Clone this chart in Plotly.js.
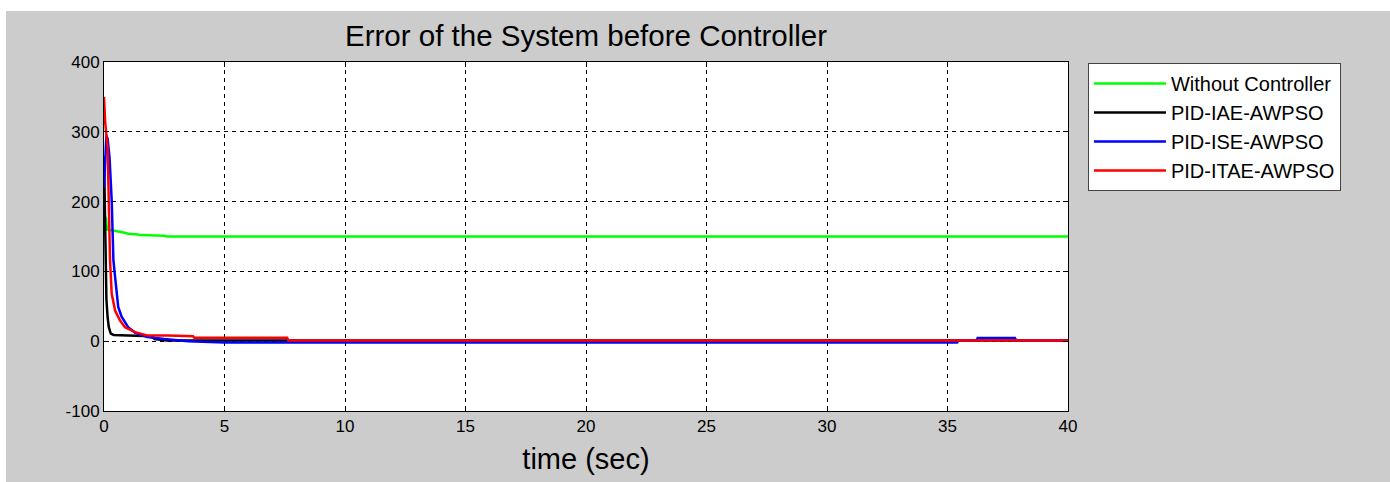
<!DOCTYPE html>
<html>
<head>
<meta charset="utf-8">
<script src="https://cdn.plot.ly/plotly-3.0.1.min.js"></script>
<style>
html,body{margin:0;padding:0;background:#ffffff;}
#chart{position:absolute;left:6px;top:11px;width:1384px;height:471px;}
</style>
</head>
<body>
<div id="chart"></div>
<script>
// Time (sec) and error values
const greenT = [0, 0.08, 0.12, 0.4, 0.5, 0.9, 1.0, 1.4, 1.5, 2.5, 2.6, 40];
const greenY = [180, 176, 160, 159, 158, 155, 154, 153, 152, 151, 150, 150];

const iaeT = [0, 0.04, 0.07, 0.1, 0.15, 0.2, 0.28, 0.4, 1.0, 2.0, 2.1, 2.6, 40];
const iaeY = [265, 200, 120, 60, 34, 20, 11, 9, 8, 7, 3, 1, 1];

const iseT = [0, 0.1, 0.15, 0.23, 0.32, 0.39, 0.46, 0.59, 0.73, 1.0, 1.3, 1.8, 2.5, 3.5, 5, 35.4, 35.45, 36.2, 36.25, 37.8, 37.85, 40];
const iseY = [220, 295, 290, 263, 201, 116, 92, 49, 35, 20, 12, 6, 3, 0, -2, -2, 0.5, 0.5, 4.5, 4.5, 0.5, 0.5];

const itaeT = [0, 0.05, 0.15, 0.18, 0.25, 0.32, 0.46, 0.66, 0.87, 1.29, 1.83, 2.65, 3.7, 3.75, 7.6, 7.65, 40];
const itaeY = [350, 313, 278, 211, 116, 68, 44, 30, 20, 13, 8, 8, 7, 5, 5, 1, 1];

const seriesNames = ["Without Controller", "PID-IAE-AWPSO", "PID-ISE-AWPSO", "PID-ITAE-AWPSO"];
const seriesColors = ["#00ff00", "#000000", "#0000ff", "#ff0000"];

const xTicks = [0, 5, 10, 15, 20, 25, 30, 35, 40];
const yTicks = [-100, 0, 100, 200, 300, 400];

const xs = [greenT, iaeT, iseT, itaeT];
const ys = [greenY, iaeY, iseY, itaeY];

const traces = xs.map((x, i) => ({
  x: x, y: ys[i], type: "scatter", mode: "lines",
  name: seriesNames[i], legendgroup: "g" + i,
  line: {color: seriesColors[i], width: 2.5}
}));

const font = "Liberation Sans, Arial, sans-serif";

const layout = {
  width: 1384, height: 471,
  paper_bgcolor: "#cccccc",
  plot_bgcolor: "#ffffff",
  margin: {l: 98, r: 322, t: 51, b: 71, pad: 0},
  title: {text: "Error of the System before Controller", font: {family: font, size: 29.5, color: "#000"},
          x: 0.5, xref: "paper", xanchor: "center", y: 0.947, yref: "container", yanchor: "middle"},
  font: {family: font, color: "#000"},
  xaxis: {
    range: [0, 40], tickvals: xTicks, ticktext: xTicks.map(String),
    showgrid: true, gridcolor: "#000", gridwidth: 1, griddash: "4px,4px",
    zeroline: false, showline: true, linecolor: "#000", linewidth: 1, mirror: "ticks",
    ticks: "inside", ticklen: 5, tickcolor: "#000",
    tickfont: {family: font, size: 17},
    title: {text: "time (sec)", font: {family: font, size: 29}, standoff: 13}
  },
  yaxis: {
    range: [-100, 400], tickvals: yTicks, ticktext: yTicks.map(String),
    showgrid: true, gridcolor: "#000", gridwidth: 1, griddash: "4px,4px",
    zeroline: false, showline: true, linecolor: "#000", linewidth: 1, mirror: "ticks",
    ticks: "inside", ticklen: 5, tickcolor: "#000",
    tickfont: {family: font, size: 17}
  },
  showlegend: true,
  legend: {
    x: 1.0207, xanchor: "left", y: 0.997, yanchor: "top",
    bgcolor: "#ffffff", bordercolor: "#444", borderwidth: 1,
    font: {family: font, size: 20, color: "#000"},
    traceorder: "grouped", tracegroupgap: 0, itemwidth: 72, indentation: 0
  }
};

Plotly.newPlot("chart", traces, layout, {displayModeBar: false, staticPlot: true});
</script>
</body>
</html>
